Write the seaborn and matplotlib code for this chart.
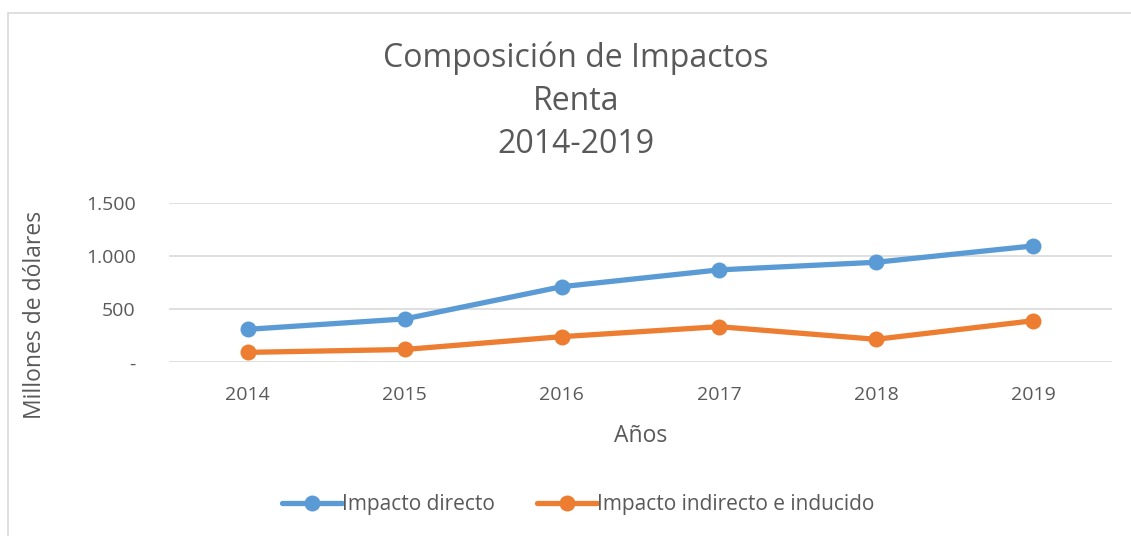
import pandas as pd
import matplotlib.pyplot as plt
import matplotlib.ticker as mticker
from matplotlib.patches import Rectangle
import seaborn as sns

years = [2014, 2015, 2016, 2017, 2018, 2019]
directo = [311, 409, 713, 871, 943, 1097]
indirecto = [94, 121, 242, 336, 217, 392]
series = ["Impacto directo", "Impacto indirecto e inducido"]
colors = ["#5B9BD5", "#ED7D31"]

df = pd.DataFrame({
    "Año": years * 2,
    "valor": directo + indirecto,
    "serie": [series[0]] * len(years) + [series[1]] * len(years),
})

sns.set_style("white")
plt.rcParams["font.family"] = ["Open Sans", "DejaVu Sans"]
gray = "#595959"

fig = plt.figure(figsize=(11.31, 5.36), dpi=100)
ax = fig.add_axes([0.1494, 0.324, 0.8336, 0.297])

# chart border (clipped by the image edge, as in the reference)
fig.patches.append(Rectangle((8 / 1131, -0.1), 1.2, 1 - 13 / 536 + 0.1,
                             transform=fig.transFigure, fill=False,
                             edgecolor="#D9D9D9", linewidth=1.2))

sns.lineplot(data=df, x="Año", y="valor", hue="serie", palette=colors,
             marker="o", markersize=11.5, markeredgewidth=0, linewidth=3.8,
             ax=ax, legend=True)

ax.set_xlim(2013.5, 2019.5)
ax.set_ylim(0, 1500)
ax.set_xticks(years)
ax.set_yticks([0, 500, 1000, 1500])
ax.yaxis.set_major_formatter(mticker.FuncFormatter(
    lambda v, p: "-" if v == 0 else f"{int(v):,}".replace(",", ".")))
ax.grid(axis="y", color="#D9D9D9", linewidth=1.2)
ax.set_axisbelow(True)
for s in ["top", "right", "left", "bottom"]:
    ax.spines[s].set_visible(False)
ax.tick_params(axis="both", length=0, labelsize=14, colors=gray)
ax.tick_params(axis="y", pad=24)
ax.tick_params(axis="x", pad=17)

ax.set_xlabel("Años", fontsize=16.5, color=gray)
ax.xaxis.set_label_coords(0.5, -0.39)
ax.set_ylabel("Millones de dólares", fontsize=16.5, color=gray)
ax.yaxis.set_label_coords(-0.129, 0.3)

fig.text(0.509, 0.811, "Composición de Impactos\nRenta\n2014-2019",
         ha="center", va="center", fontsize=23, color=gray, linespacing=1.4)

handles, labels = ax.get_legend_handles_labels()
ax.legend(handles, labels, loc="center", bbox_to_anchor=(0.434, -0.895),
          ncol=2, frameon=False, fontsize=15, labelcolor=gray,
          handlelength=2.9, handletextpad=0.0, columnspacing=2.0)

plt.savefig("out.png", dpi=100)
